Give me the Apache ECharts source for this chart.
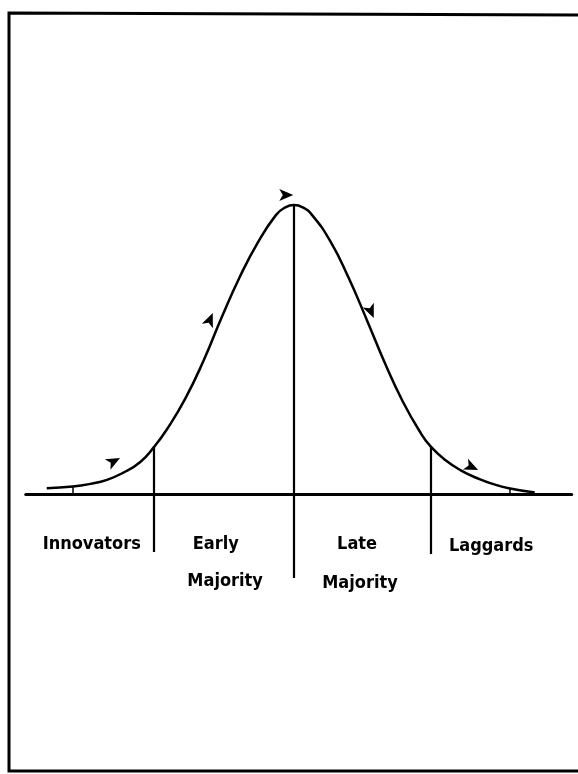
<!DOCTYPE html>
<html>
<head>
<meta charset="utf-8">
<script src="https://cdn.jsdelivr.net/npm/echarts@6/dist/echarts.min.js"></script>
<style>
	html, body { margin: 0; padding: 0; background: #fff; }
	#chart { width: 578px; height: 774px; }
</style>
</head>
<body>
<div id="chart"></div>
<script>
// x in standard deviations from the mean, y in % of the peak height
var curveX = [-3.41, -3.05, -2.81, -2.58, -2.36, -2.12, -1.93, -1.75, -1.5, -1.25, -1, -0.75, -0.5, -0.25, -0.12, 0,
	0.12, 0.25, 0.5, 0.75, 1, 1.25, 1.5, 1.75, 1.89, 2.1, 2.3, 2.55, 2.75, 2.98, 3.32];
var curveY = [2.0, 2.6, 3.5, 4.9, 7.3, 11.1, 16.3, 22.5, 33.0, 46.0, 61.0, 75.0, 87.0, 96.5, 99.2, 100,
	99.2, 96.5, 87.5, 75.0, 60.5, 45.5, 32.0, 21.0, 16.3, 11.5, 8.2, 5.2, 3.4, 1.9, 0.5];

// vertical dividers: x, top, bottom
var dividerX = [-1.93, 0, 1.89];
var dividerTop = [16.3, 100, 16.3];
var dividerBottom = [-20.1, -29.1, -20.8];

// small ticks under the tails
var tickX = [-3.05, 2.98];
var tickTop = [2.6, 1.9];

// direction arrows along the curve
var arrowX = [-2.40, -1.12, -0.01, 1.10, 2.54];
var arrowY = [12.5, 62.6, 103.5, 60.9, 8.3];
var arrowRot = [-62, -23, -90, -157, -115];

// group labels
var labelText = ['Innovators', 'Early', 'Majority', 'Late', 'Majority', 'Laggards'];
var labelX = [-2.79, -1.08, -0.95, 0.87, 0.91, 2.72];
var labelY = [-17.3, -17.3, -30.1, -17.3, -30.8, -18.0];

var chart = echarts.init(document.getElementById('chart'));

var curve = curveX.map(function (x, i) { return [x, curveY[i]]; });
var dividers = dividerX.map(function (x, i) {
	return { coords: [[x, dividerTop[i]], [x, dividerBottom[i]]] };
});
var ticks = tickX.map(function (x, i) {
	return { coords: [[x, tickTop[i]], [x, 0]] };
});
var arrows = arrowX.map(function (x, i) {
	return { value: [x, arrowY[i]], symbolRotate: arrowRot[i] };
});
var labels = labelText.map(function (t, i) {
	return { name: t, value: [labelX[i], labelY[i]] };
});

var opt = {
	animation: false,
	backgroundColor: '#fff',
	grid: { left: 25.75, right: 6.3, top: 176.1, bottom: 164.4 },
	xAxis: {
		type: 'value',
		min: -3.7,
		max: 3.83,
		axisLine: { show: true, onZero: true, lineStyle: { color: '#000', width: 3 } },
		axisTick: { show: false },
		axisLabel: { show: false },
		splitLine: { show: false }
	},
	yAxis: {
		type: 'value',
		min: -40,
		max: 110,
		show: false,
		splitLine: { show: false }
	},
	graphic: [{
		type: 'polyline',
		shape: { points: [[578, 15], [9, 13], [9, 771], [578, 771]] },
		style: { stroke: '#000', lineWidth: 3, fill: null }
	}],
	series: [
		{
			type: 'line',
			data: curve,
			smooth: 0.5,
			symbol: 'none',
			lineStyle: { color: '#000', width: 2.5 }
		},
		{
			type: 'lines',
			coordinateSystem: 'cartesian2d',
			data: dividers,
			lineStyle: { color: '#000', width: 2.2, opacity: 1 }
		},
		{
			type: 'lines',
			coordinateSystem: 'cartesian2d',
			data: ticks,
			lineStyle: { color: '#000', width: 1.5, opacity: 1 }
		},
		{
			type: 'scatter',
			data: arrows,
			symbol: 'arrow',
			symbolSize: [9, 14],
			clip: false,
			itemStyle: { color: '#000', opacity: 1 }
		},
		{
			type: 'scatter',
			data: labels,
			symbolSize: 0,
			clip: false,
			itemStyle: { opacity: 1 },
			label: {
				show: true,
				position: 'inside',
				formatter: '{b}',
				color: '#000',
				opacity: 1,
				textBorderWidth: 0,
				fontFamily: 'DejaVu Sans Condensed',
				fontWeight: 'bold',
				fontSize: 18
			}
		}
	]
};

chart.setOption(opt);
</script>
</body>
</html>
